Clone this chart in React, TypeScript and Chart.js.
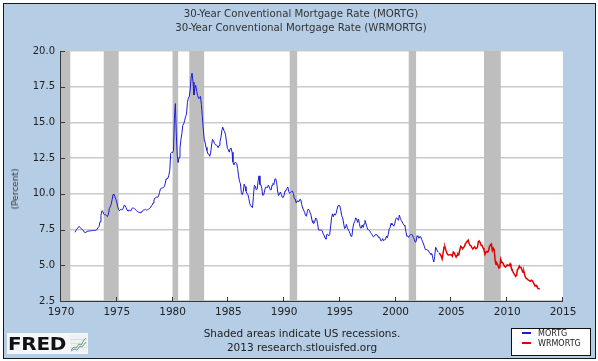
import React, { useEffect, useRef } from "react";
import { Chart, registerables } from "chart.js";

Chart.register(...registerables);

// ---- Data ----
// MORTG: monthly, April 1971 .. November 2003
const mortgStartYear = 1971;
const mortgStartMonth = 4;
const mortgValues: number[] = [
  // 1971 (Apr-Dec)
  7.31, 7.43, 7.53, 7.6, 7.7, 7.69, 7.63, 7.55, 7.48,
  // 1972
  7.44, 7.32, 7.29, 7.31, 7.37, 7.37, 7.4, 7.4, 7.42, 7.43, 7.43, 7.44,
  // 1973
  7.44, 7.44, 7.46, 7.54, 7.65, 7.73, 8.05, 8.5, 8.82, 8.77, 8.58, 8.54,
  // 1974
  8.54, 8.46, 8.41, 8.58, 8.97, 9.09, 9.28, 9.59, 9.96, 9.98, 9.79, 9.62,
  // 1975
  9.43, 9.1, 8.89, 8.82, 8.91, 8.89, 8.89, 9.01, 9.2, 9.18, 9.04, 8.88,
  // 1976
  8.8, 8.82, 8.86, 8.8, 8.94, 9.02, 9.0, 8.97, 8.92, 8.84, 8.77, 8.74,
  // 1977
  8.7, 8.68, 8.74, 8.72, 8.84, 8.88, 8.89, 8.92, 8.86, 8.88, 8.92, 8.96,
  // 1978
  9.02, 9.15, 9.2, 9.36, 9.57, 9.71, 9.74, 9.78, 9.76, 9.86, 10.11, 10.35,
  // 1979
  10.39, 10.41, 10.43, 10.5, 10.69, 11.04, 11.09, 11.09, 11.3, 11.64, 12.83, 12.9,
  // 1980
  12.88, 13.04, 15.28, 16.32, 14.26, 12.71, 12.19, 12.56, 13.2, 13.79, 14.21, 14.79,
  // 1981
  14.9, 15.13, 15.4, 15.58, 16.4, 16.7, 16.83, 17.29, 18.16, 18.45, 17.83, 16.92,
  // 1982
  17.4, 17.6, 17.16, 16.89, 16.68, 16.7, 16.82, 16.27, 15.43, 14.61, 13.83, 13.62,
  // 1983
  13.25, 13.04, 12.8, 12.78, 12.63, 12.87, 13.42, 13.81, 13.73, 13.54, 13.44, 13.42,
  // 1984
  13.37, 13.23, 13.39, 13.65, 13.94, 14.42, 14.67, 14.47, 14.35, 14.13, 13.64, 13.18,
  // 1985
  13.08, 12.92, 13.17, 13.2, 12.91, 12.22, 12.03, 12.19, 12.19, 12.14, 11.78, 11.26,
  // 1986
  10.88, 10.71, 10.08, 9.94, 10.14, 10.68, 10.51, 10.2, 10.01, 9.97, 9.7, 9.31,
  // 1987
  9.2, 9.08, 9.04, 9.83, 10.6, 10.54, 10.28, 10.33, 10.89, 11.26, 10.65, 10.64,
  // 1988
  10.38, 9.89, 9.93, 10.2, 10.46, 10.46, 10.43, 10.6, 10.48, 10.3, 10.27, 10.61,
  // 1989
  10.73, 10.65, 11.03, 11.05, 10.77, 10.2, 9.88, 9.99, 10.13, 9.95, 9.77, 9.74,
  // 1990
  9.9, 10.2, 10.27, 10.37, 10.48, 10.16, 10.04, 10.1, 10.18, 10.18, 10.01, 9.67,
  // 1991
  9.64, 9.37, 9.5, 9.49, 9.47, 9.62, 9.58, 9.24, 9.01, 8.86, 8.71, 8.5,
  // 1992
  8.43, 8.76, 8.94, 8.85, 8.67, 8.51, 8.13, 7.98, 7.92, 8.09, 8.31, 8.22,
  // 1993
  7.91, 7.47, 7.46, 7.46, 7.47, 7.42, 7.21, 7.11, 6.92, 6.83, 7.16, 7.17,
  // 1994
  7.06, 7.15, 7.68, 8.32, 8.6, 8.4, 8.61, 8.51, 8.64, 8.93, 9.17, 9.2,
  // 1995
  9.15, 8.83, 8.46, 8.32, 7.96, 7.57, 7.61, 7.86, 7.64, 7.48, 7.38, 7.2,
  // 1996
  7.03, 7.08, 7.62, 7.93, 8.07, 8.32, 8.25, 8.0, 8.23, 7.92, 7.62, 7.6,
  // 1997
  7.82, 7.65, 7.9, 8.14, 7.94, 7.69, 7.5, 7.48, 7.43, 7.29, 7.21, 7.1,
  // 1998
  6.99, 7.04, 7.13, 7.14, 7.14, 7.0, 6.95, 6.92, 6.72, 6.71, 6.87, 6.72,
  // 1999
  6.79, 6.81, 7.04, 6.92, 7.15, 7.55, 7.63, 7.94, 7.82, 7.85, 7.74, 7.91,
  // 2000
  8.21, 8.33, 8.24, 8.15, 8.52, 8.29, 8.15, 8.03, 7.91, 7.8, 7.75, 7.38,
  // 2001
  7.03, 7.05, 6.95, 7.08, 7.15, 7.16, 7.13, 6.95, 6.82, 6.62, 6.66, 7.07,
  // 2002
  7.0, 6.89, 7.01, 6.99, 6.81, 6.65, 6.49, 6.29, 6.09, 6.11, 6.07, 6.05,
  // 2003 (Jan-Nov)
  5.92, 5.84, 5.75, 5.81, 5.48, 5.23, 5.63, 6.26, 6.15, 5.95, 5.93,
];

// WRMORTG: December 2003 .. December 2012
const wrmortgStartYear = 2003;
const wrmortgStartMonth = 12;
const wrmortgValues: number[] = [
  5.88,
  // 2004
  5.74, 5.64, 5.45, 5.83, 6.27, 6.29, 6.06, 5.87, 5.75, 5.72, 5.73, 5.75,
  // 2005
  5.71, 5.63, 5.93, 5.86, 5.72, 5.58, 5.7, 5.82, 5.77, 6.07, 6.33, 6.27,
  // 2006
  6.15, 6.25, 6.32, 6.51, 6.6, 6.68, 6.76, 6.52, 6.4, 6.36, 6.24, 6.14,
  // 2007
  6.22, 6.29, 6.16, 6.18, 6.26, 6.66, 6.7, 6.57, 6.38, 6.38, 6.21, 6.1,
  // 2008
  5.76, 5.92, 5.97, 5.92, 6.04, 6.32, 6.43, 6.48, 6.04, 6.2, 6.09, 5.33,
  // 2009
  5.06, 5.13, 5.0, 4.81, 4.86, 5.42, 5.22, 5.19, 5.06, 4.95, 4.88, 4.93,
  // 2010
  5.03, 4.99, 4.97, 5.1, 4.89, 4.74, 4.56, 4.43, 4.35, 4.23, 4.3, 4.71,
  // 2011
  4.76, 4.95, 4.84, 4.84, 4.64, 4.51, 4.55, 4.27, 4.11, 4.07, 3.99, 3.96,
  // 2012
  3.92, 3.89, 3.95, 3.91, 3.8, 3.68, 3.55, 3.6, 3.5, 3.38, 3.35, 3.35,
];

// US recessions (decimal years)
const recessionStarts = [1969.92, 1973.83, 1980.0, 1981.5, 1990.5, 2001.17, 2007.92];
const recessionEnds = [1970.83, 1975.17, 1980.5, 1982.83, 1991.17, 2001.83, 2009.42];

const xTicks = [1970, 1975, 1980, 1985, 1990, 1995, 2000, 2005, 2010, 2015];
const yTicks = [2.5, 5.0, 7.5, 10.0, 12.5, 15.0, 17.5, 20.0];

const seriesNames = ["MORTG", "WRMORTG"];
const seriesColors = ["#1c1cd6", "#e00000"];

const titleLines = [
  "30-Year Conventional Mortgage Rate (MORTG)",
  "30-Year Conventional Mortgage Rate (WRMORTG)",
];
const footerLines = ["Shaded areas indicate US recessions.", "2013 research.stlouisfed.org"];

const FONT = "'DejaVu Sans', Verdana, sans-serif";

function toPoints(startYear: number, startMonth: number, values: number[]) {
  return values.map((v, i) => ({ x: startYear + (startMonth - 1 + i) / 12, y: v }));
}

const plotBackground = {
  id: "plotBackground",
  beforeDraw(chart: any) {
    const { ctx, chartArea: a } = chart;
    ctx.save();
    ctx.fillStyle = "#ffffff";
    ctx.fillRect(a.left, a.top, a.right - a.left, a.bottom - a.top);
    ctx.restore();
  },
};

const recessionAndAxes = {
  id: "recessionAndAxes",
  beforeDatasetsDraw(chart: any) {
    const { ctx, chartArea: a, scales } = chart;
    const xs = scales.x;
    const ys = scales.y;
    ctx.save();
    ctx.beginPath();
    ctx.rect(a.left, a.top, a.right - a.left, a.bottom - a.top);
    ctx.clip();
    ctx.fillStyle = "#bebebe";
    recessionStarts.forEach((s, i) => {
      const x0 = xs.getPixelForValue(s);
      const x1 = xs.getPixelForValue(recessionEnds[i]);
      ctx.fillRect(x0, a.top, x1 - x0, a.bottom - a.top);
    });
    ctx.restore();

    ctx.save();
    ctx.strokeStyle = "#3a3a3a";
    ctx.lineWidth = 1;
    ctx.beginPath();
    ctx.moveTo(a.left - 0.5, a.top);
    ctx.lineTo(a.left - 0.5, a.bottom + 0.5);
    ctx.lineTo(a.right, a.bottom + 0.5);
    yTicks.forEach((v) => {
      const y = Math.round(ys.getPixelForValue(v)) + 0.5;
      ctx.moveTo(a.left - 0.5, y);
      ctx.lineTo(a.left + 4, y);
    });
    xTicks.forEach((v) => {
      const x = Math.round(xs.getPixelForValue(v)) - 0.5;
      ctx.moveTo(x, a.bottom + 0.5);
      ctx.lineTo(x, a.bottom - 4);
    });
    ctx.stroke();
    ctx.restore();
  },
};

export default function App() {
  const canvasRef = useRef<HTMLCanvasElement>(null);

  useEffect(() => {
    const chart = new Chart(canvasRef.current as HTMLCanvasElement, {
      type: "line",
      data: {
        datasets: [
          {
            label: seriesNames[0],
            data: toPoints(mortgStartYear, mortgStartMonth, mortgValues),
            borderColor: seriesColors[0],
            borderWidth: 1,
            pointRadius: 0,
            tension: 0,
            fill: false,
          },
          {
            label: seriesNames[1],
            data: toPoints(wrmortgStartYear, wrmortgStartMonth, wrmortgValues),
            borderColor: seriesColors[1],
            borderWidth: 1.5,
            pointRadius: 0,
            tension: 0,
            fill: false,
          },
        ],
      },
      options: {
        animation: false,
        responsive: false,
        devicePixelRatio: 1,
        layout: { padding: { left: 0, top: 51, right: 35, bottom: 0 } },
        plugins: {
          legend: { display: false },
          title: { display: false },
          tooltip: { enabled: false },
        },
        scales: {
          x: {
            type: "linear",
            min: 1970,
            max: 2015,
            afterFit(s: any) {
              s.height = 60;
            },
            afterBuildTicks(s: any) {
              s.ticks = xTicks.map((v) => ({ value: v }));
            },
            ticks: {
              autoSkip: false,
              maxRotation: 0,
              padding: 5,
              color: "#222",
              font: { family: FONT, size: 10.5 },
              callback: (v: any) => String(v),
            },
            grid: { display: false, drawTicks: false },
            border: { display: false },
          },
          y: {
            type: "linear",
            min: 2.5,
            max: 20,
            afterFit(s: any) {
              s.width = 61;
            },
            afterBuildTicks(s: any) {
              s.ticks = yTicks.map((v) => ({ value: v }));
            },
            ticks: {
              padding: 6,
              color: "#222",
              font: { family: FONT, size: 10 },
              callback: (v: any) => Number(v).toFixed(1),
            },
            grid: { color: "#cacaca", lineWidth: 1.5, drawTicks: false },
            border: { display: false },
          },
        },
      } as any,
      plugins: [plotBackground, recessionAndAxes],
    });
    return () => chart.destroy();
  }, []);

  return (
    <div
      style={{
        position: "fixed",
        left: 0,
        top: 0,
        width: 598,
        height: 361,
        background: "#ffffff",
        fontFamily: FONT,
        overflow: "hidden",
      }}
    >
      <div
        style={{
          position: "absolute",
          left: 3,
          top: 3,
          width: 593,
          height: 356,
          boxSizing: "border-box",
          border: "1px solid #1a1a1a",
          background: "#b6cde6",
        }}
      />
      <canvas
        ref={canvasRef}
        width={598}
        height={361}
        style={{ position: "absolute", left: 0, top: 0 }}
      />
      {/* Title */}
      <div
        style={{
          position: "absolute",
          left: 0,
          top: 7,
          width: 602,
          textAlign: "center",
          fontSize: 10.2,
          lineHeight: "14px",
          color: "#333",
          whiteSpace: "nowrap",
        }}
      >
        {titleLines.map((t) => (
          <div key={t}>{t}</div>
        ))}
      </div>
      {/* Y axis title */}
      <div
        style={{
          position: "absolute",
          left: 15,
          top: 189,
          transform: "translate(-50%, -50%) rotate(-90deg)",
          fontSize: 9,
          color: "#333",
          whiteSpace: "nowrap",
        }}
      >
        (Percent)
      </div>
      {/* Footer */}
      <div
        style={{
          position: "absolute",
          left: 0,
          top: 326,
          width: 604,
          textAlign: "center",
          fontSize: 10.5,
          lineHeight: "14px",
          color: "#222",
          whiteSpace: "nowrap",
        }}
      >
        {footerLines.map((t) => (
          <div key={t}>{t}</div>
        ))}
      </div>
      {/* FRED logo */}
      <div
        style={{
          position: "absolute",
          left: 7,
          top: 333,
          width: 81,
          height: 21,
          background: "#f4f6f8",
        }}
      >
        <div
          style={{
            position: "absolute",
            left: 1,
            top: 0,
            fontSize: 18.5,
            lineHeight: "21px",
            fontWeight: 700,
            color: "#111",
            transform: "scaleX(1.08)",
            transformOrigin: "left center",
            letterSpacing: -0.3,
          }}
        >
          FRED
        </div>
        <svg
          width={17}
          height={17}
          viewBox="0 0 17 17"
          style={{ position: "absolute", left: 63, top: 2 }}
        >
          <rect x={0} y={0} width={17} height={17} fill="#eef1f4" />
          <path d="M0 4.5H17M0 8.5H17M0 12.5H17" stroke="#d6dbe0" strokeWidth={0.8} />
          <polyline points="1,15 4,12 6,13 9,9 11,10 14,5 16,3" fill="none" stroke="#6aa84f" strokeWidth={1} />
          <polyline points="1,16 4,14 7,15 10,11 12,12 16,7" fill="none" stroke="#6d8fbf" strokeWidth={1} />
        </svg>
      </div>
      {/* Legend */}
      <div
        style={{
          position: "absolute",
          left: 511,
          top: 328,
          width: 80,
          height: 28,
          boxSizing: "border-box",
          border: "1px solid #111",
          background: "#ffffff",
        }}
      >
        {seriesNames.map((name, i) => (
          <React.Fragment key={name}>
            <div
              style={{
                position: "absolute",
                left: 10,
                top: 3 + i * 10,
                width: 9,
                height: 2,
                background: seriesColors[i],
              }}
            />
            <div
              style={{
                position: "absolute",
                left: 26,
                top: i * 10,
                fontSize: 8,
                lineHeight: "9px",
                color: "#222",
                whiteSpace: "nowrap",
              }}
            >
              {name}
            </div>
          </React.Fragment>
        ))}
      </div>
    </div>
  );
}
